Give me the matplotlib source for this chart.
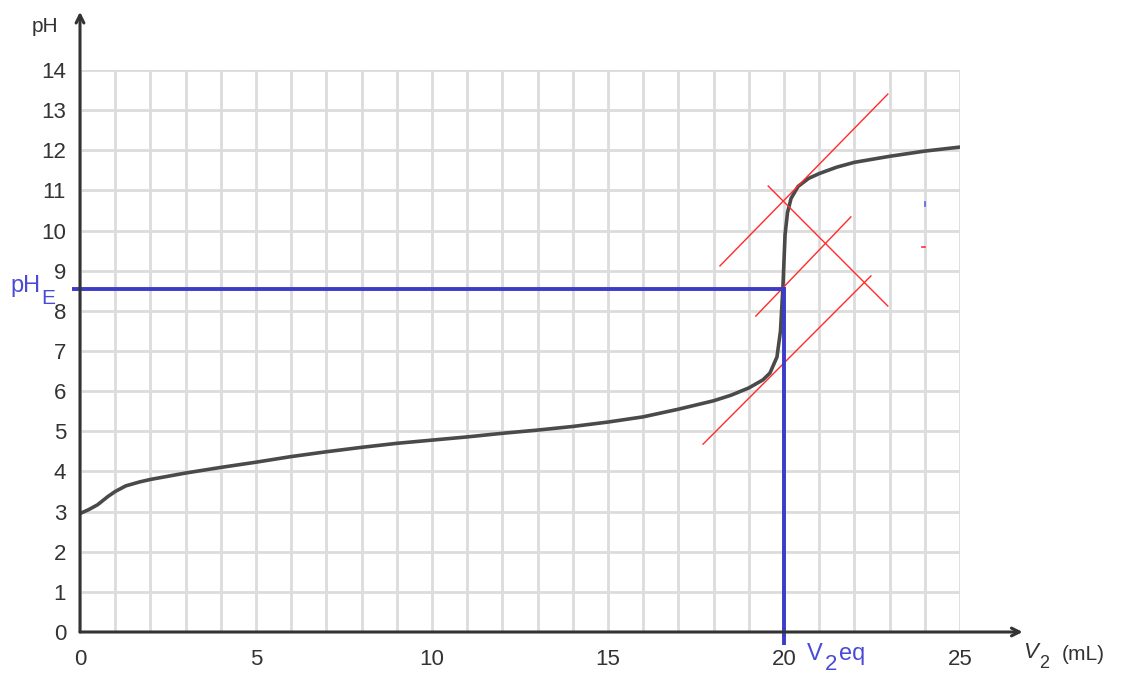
import matplotlib
matplotlib.use("Agg")
import matplotlib.pyplot as plt
import numpy as np

plt.rcParams['font.family'] = ['Liberation Sans', 'DejaVu Sans']

# Titration curve
volume_ml = [0, 0.25, 0.5, 0.8, 1.0, 1.3, 1.7, 2, 3, 4, 5, 6, 7, 8, 9, 10, 11,
             12, 13, 14, 15, 16, 17, 18, 18.5, 19, 19.4, 19.6, 19.8, 19.9,
             19.97, 20.03, 20.1, 20.2, 20.4, 20.7, 21, 21.5, 22, 23, 24, 25]
ph_values = [2.95, 3.05, 3.17, 3.38, 3.5, 3.64, 3.74, 3.8, 3.96, 4.1, 4.23,
             4.37, 4.49, 4.6, 4.7, 4.78, 4.86, 4.95, 5.03, 5.12, 5.23, 5.36,
             5.55, 5.76, 5.9, 6.08, 6.28, 6.45, 6.85, 7.5, 8.6, 9.9, 10.45,
             10.8, 11.1, 11.3, 11.42, 11.58, 11.7, 11.85, 11.98, 12.08]

# Equivalence point construction
v_eq = 20.0
ph_eq = 8.55

# Tangent / construction lines (start x, start y, end x, end y)
tangent_upper = [(18.18, 9.12), (22.95, 13.40)]
tangent_middle = [(19.2, 7.87), (21.9, 10.34)]
tangent_lower = [(17.7, 4.68), (22.47, 8.87)]
perpendicular = [(19.55, 11.11), (22.95, 8.12)]

x_major = [0, 5, 10, 15, 20, 25]
y_ticks = list(range(0, 15))

W, H = 1129, 675
fig = plt.figure(figsize=(W / 100, H / 100), dpi=100)
x0p, x1p, y0p, y1p = 80, 960, 632, 70
ax = fig.add_axes([x0p / W, 1 - y0p / H, (x1p - x0p) / W, (y0p - y1p) / H])
ax.set_xlim(0, 25)
ax.set_ylim(0, 14)

for s in ax.spines.values():
    s.set_visible(False)

ax.set_xticks(x_major)
ax.set_xticks(range(0, 26), minor=True)
ax.set_yticks(y_ticks)
ax.tick_params(which='both', length=0)
ax.tick_params(axis='x', pad=12, labelsize=16, labelcolor='#333333')
ax.tick_params(axis='y', pad=10, labelsize=16, labelcolor='#333333')
ax.grid(True, which='both', color='#dcdcdc', linewidth=2)
ax.set_axisbelow(True)

# curve
ax.plot(volume_ml, ph_values, color='#4a4a4a', linewidth=2.6, zorder=3,
        solid_capstyle='round', solid_joinstyle='round')

# red construction lines
for seg in (tangent_upper, tangent_middle, tangent_lower, perpendicular):
    (xa, ya), (xb, yb) = seg
    ax.plot([xa, xb], [ya, yb], color='#ff2a2a', linewidth=1.0, zorder=4,
            clip_on=False)

# blue equivalence lines
blue = '#3c3cc8'
ax.plot([-0.23, v_eq + 0.05], [ph_eq, ph_eq], color=blue, linewidth=2.8,
        zorder=5, clip_on=False, solid_capstyle='butt')
ax.plot([v_eq, v_eq], [ph_eq, -0.33], color=blue, linewidth=2.8,
        zorder=5, clip_on=False, solid_capstyle='butt')

# stray marks
ax.plot([24.0, 24.0], [10.72, 10.62], color='#6060e0', linewidth=1.2, zorder=4)
ax.plot([23.92, 24.0], [9.6, 9.6], color='#ff3030', linewidth=1.2, zorder=4)

# axis arrows
ax.annotate('', xy=(0, 15.45), xytext=(0, 0), xycoords='data',
            arrowprops=dict(arrowstyle='->', color='#333333', lw=2.2,
                            mutation_scale=14, shrinkA=0, shrinkB=0),
            annotation_clip=False, zorder=6)
ax.annotate('', xy=(26.78, 0), xytext=(0, 0), xycoords='data',
            arrowprops=dict(arrowstyle='->', color='#333333', lw=2.2,
                            mutation_scale=14, shrinkA=0, shrinkB=0),
            annotation_clip=False, zorder=6)

# axis labels
fig.text(45 / W, 1 - 27 / H, 'pH', fontsize=15, color='#333333',
         ha='center', va='center')
fig.text(1023 / W, 1 - 652 / H, 'V', fontsize=16, style='italic',
         color='#333333', ha='left', va='center')
fig.text(1039 / W, 1 - 664 / H, '2', fontsize=13,
         color='#333333', ha='left', va='center')
fig.text(1062 / W, 1 - 655 / H, '(mL)', fontsize=15, color='#333333',
         ha='left', va='center')

# blue labels
label_blue = '#4a4ad6'
fig.text(10 / W, 1 - 286 / H, 'pH', fontsize=17, color=label_blue,
         ha='left', va='center')
fig.text(41 / W, 1 - 299 / H, 'E', fontsize=15, color=label_blue,
         ha='left', va='center')
fig.text(807 / W, 1 - 654 / H, 'V', fontsize=17, color=label_blue,
         ha='left', va='center')
fig.text(825 / W, 1 - 664 / H, '2', fontsize=16, color=label_blue,
         ha='left', va='center')
fig.text(839 / W, 1 - 654 / H, 'eq', fontsize=17, color=label_blue,
         ha='left', va='center')

fig.savefig('out.png', dpi=100)
